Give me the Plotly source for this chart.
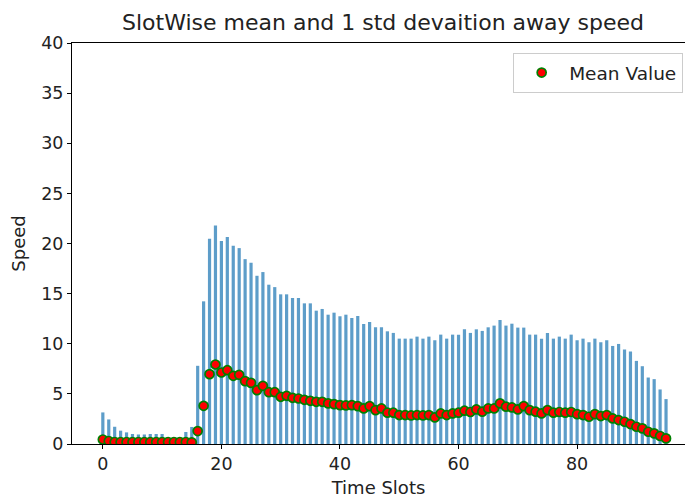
import plotly.graph_objects as go

# Time slots 0..95 (15-minute slots over a day)
slots = list(range(96))

mean_speed = [
    0.45, 0.30, 0.20, 0.20, 0.20, 0.20, 0.20, 0.20, 0.20, 0.20,
    0.20, 0.20, 0.20, 0.20, 0.20, 0.17, 1.29, 3.81, 6.97, 7.93,
    7.13, 7.36, 6.80, 6.90, 6.27, 6.10, 5.37, 5.80, 5.17, 5.17,
    4.71, 4.81, 4.61, 4.54, 4.41, 4.31, 4.21, 4.21, 4.05, 3.98,
    3.88, 3.85, 3.88, 3.78, 3.55, 3.78, 3.38, 3.55, 3.12, 3.12,
    2.89, 2.89, 2.85, 2.89, 2.85, 2.89, 2.65, 3.05, 2.89, 3.05,
    3.12, 3.32, 3.19, 3.45, 3.22, 3.55, 3.55, 4.05, 3.72, 3.65,
    3.45, 3.78, 3.38, 3.22, 3.05, 3.38, 3.12, 3.19, 3.12, 3.19,
    2.98, 2.89, 2.72, 2.98, 2.79, 2.89, 2.55, 2.39, 2.22, 1.99,
    1.72, 1.56, 1.22, 1.06, 0.80, 0.56,
]

std_speed = [
    2.70, 2.15, 1.52, 1.13, 0.96, 0.80, 0.75, 0.75, 0.80, 0.80,
    0.80, 0.40, 0.40, 0.40, 1.00, 1.53, 6.51, 10.42, 13.50, 13.86,
    13.13, 13.30, 12.97, 12.64, 12.17, 11.98, 11.41, 11.35, 10.72, 10.48,
    10.22, 10.12, 9.95, 10.02, 9.62, 9.72, 9.09, 9.26, 8.85, 9.12,
    8.86, 9.05, 8.69, 8.99, 8.42, 8.39, 8.26, 8.09, 8.12, 7.96,
    7.62, 7.62, 7.66, 7.82, 7.66, 7.82, 7.70, 7.86, 7.62, 7.86,
    7.79, 8.12, 7.89, 7.99, 8.06, 8.09, 8.26, 8.32, 8.09, 8.35,
    8.16, 7.83, 7.53, 7.69, 7.46, 7.70, 7.39, 7.52, 7.39, 7.72,
    7.37, 7.62, 7.43, 7.53, 7.36, 7.46, 7.23, 7.59, 7.20, 7.23,
    6.57, 6.20, 5.41, 5.41, 4.64, 3.92,
]

y_ticks = [0, 5, 10, 15, 20, 25, 30, 35, 40]
x_ticks = [0, 20, 40, 60, 80]

font_family = "DejaVu Sans"
text_color = "#222222"

fig = go.Figure()
fig.add_trace(go.Scatter(
    x=slots,
    y=mean_speed,
    mode="markers",
    name="Mean Value",
    marker=dict(color="red", size=9, line=dict(color="green", width=1.7)),
    error_y=dict(
        type="data",
        array=std_speed,
        symmetric=True,
        color="rgba(31,119,180,0.72)",
        thickness=3.2,
        width=0,
    ),
))

fig.update_layout(
    width=685,
    height=500,
    margin=dict(l=72, r=0, t=43, b=56),
    paper_bgcolor="white",
    plot_bgcolor="white",
    font=dict(family=font_family, size=17.5, color=text_color),
    title=dict(
        text="SlotWise mean and 1 std devaition away speed",
        x=(72 + 694) / 2 / 685,
        xanchor="center",
        y=1 - 22 / 500,
        yanchor="middle",
        font=dict(family=font_family, size=22, color=text_color),
    ),
    showlegend=True,
    legend=dict(
        x=0.997,
        y=0.975,
        xanchor="right",
        yanchor="top",
        bgcolor="white",
        bordercolor="#cccccc",
        borderwidth=1,
        itemwidth=45,
        font=dict(family=font_family, size=18.5, color=text_color),
    ),
)

fig.update_xaxes(
    range=[-5.2, 98.2],
    tickvals=x_ticks,
    ticks="outside",
    ticklen=4,
    tickcolor="black",
    showline=True,
    linecolor="black",
    linewidth=1,
    mirror=True,
    showgrid=False,
    zeroline=False,
    title=dict(text="Time Slots", font=dict(family=font_family, size=18, color=text_color), standoff=8),
    tickfont=dict(family=font_family, size=17.5, color=text_color),
)

fig.update_yaxes(
    range=[0, 40],
    tickvals=y_ticks,
    ticks="outside",
    ticklen=4,
    tickcolor="black",
    showline=True,
    linecolor="black",
    linewidth=1,
    showgrid=False,
    zeroline=False,
    title=dict(text="Speed", font=dict(family=font_family, size=18, color=text_color), standoff=10),
    tickfont=dict(family=font_family, size=17.5, color=text_color),
)

fig.write_html("out.html")
